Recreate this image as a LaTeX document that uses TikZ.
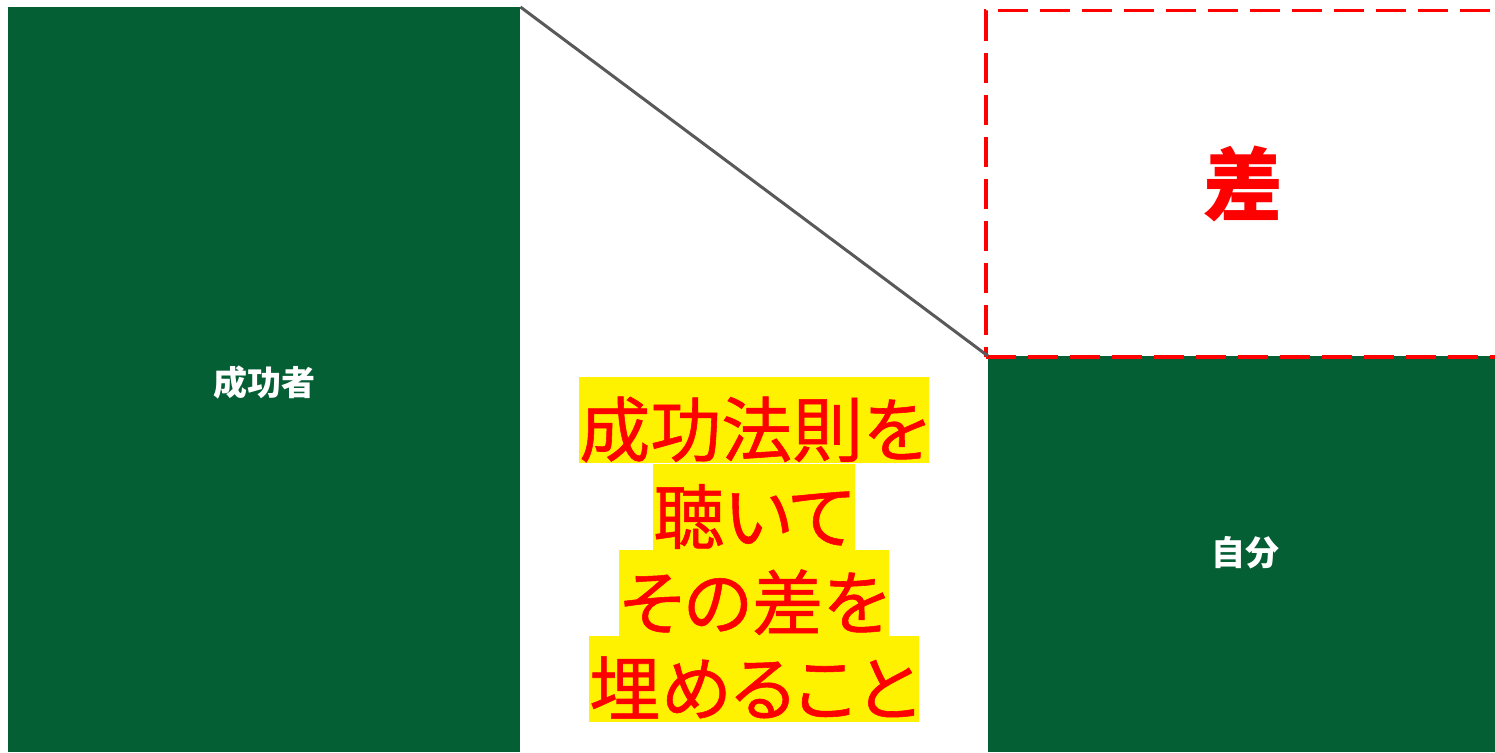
\documentclass[tikz,border=0pt]{standalone}
\usepackage{fontspec}
\newfontfamily\jp[RawFeature=+palt,FakeBold=0.8]{Noto Sans CJK JP}
\newfontfamily\jpm{Noto Sans CJK JP}
\definecolor{dgreen}{HTML}{055F35}
\definecolor{lgray}{HTML}{595959}
\begin{document}
\begin{tikzpicture}[x=1pt,y=-1pt,
  greenbox/.style={fill=dgreen,draw=none,inner sep=0},
  whitelabel/.style={text=white,font=\jpm\bfseries\fontsize{34}{34}\selectfont},
  hl/.style={fill=yellow,inner sep=0,text=red,text height=79pt,text depth=7pt,font=\jp\fontsize{71}{71}\selectfont}]
\useasboundingbox (0,0) rectangle (1495,752);
\node[greenbox,minimum width=512pt,minimum height=745pt,anchor=north west] (succ) at (8,7) {};
\node[whitelabel] (succlabel) at (264,383) {成功者};
\node[greenbox,minimum width=510pt,minimum height=396pt,anchor=north west] (self) at (988,356) {};
\node[whitelabel] (selflabel) at (1245,553) {自分};
\node[draw=red,line width=3.5pt,dash pattern=on 30pt off 12pt,inner sep=0,minimum width=520pt,minimum height=346pt,anchor=north west] (gap) at (984,9) {};
\node[text=red,font=\jpm\bfseries\fontsize{80}{80}\selectfont] (gaplabel) at (1243,184) {差};
\draw[lgray,line width=3pt] (succ.north east) -- (self.north west);
\node[hl,anchor=north] (l1) at (754,377) {成功法則を};
\node[hl,anchor=north] (l2) at (754,464) {聴いて};
\node[hl,anchor=north] (l3) at (754,550) {その差を};
\node[hl,anchor=north] (l4) at (754,636) {埋めること};
\end{tikzpicture}
\end{document}
